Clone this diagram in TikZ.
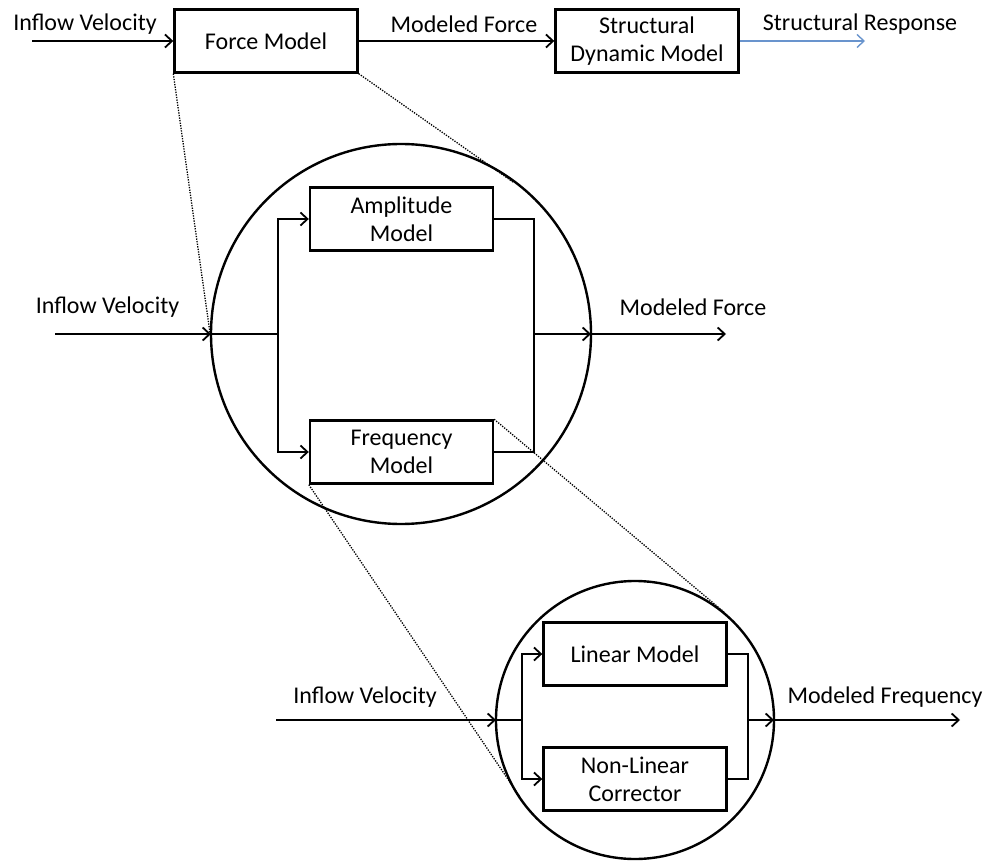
\documentclass[tikz,border=0pt]{standalone}
\usepackage{fontspec}
\setmainfont{Carlito}
\usetikzlibrary{arrows.meta}
\definecolor{respblue}{RGB}{105,148,205}
\begin{document}
\begin{tikzpicture}[x=1pt,y=-1pt,
  every node/.style={font=\fontsize{24}{28}\selectfont},
  blk/.style={draw, line width=2.4pt, minimum width=183pt, minimum height=63pt, inner sep=0pt, align=center},
  zoomcirc/.style={draw, circle, line width=2.4pt, inner sep=0pt, outer sep=0pt},
  conn/.style={line width=1.8pt},
  arr/.style={conn, -{Straight Barb[length=7pt,width=13pt,line width=1.8pt]}},
  zoomline/.style={line width=1.3pt, dash pattern=on 1.3pt off 1.3pt},
  lbl/.style={anchor=base, inner sep=0pt}
]
\useasboundingbox (0,0) rectangle (999,861);

% ---------- top row ----------
\node[blk] (fm) at (266,41) {Force Model};
\node[blk] (sdm) at (647,41) {Structural\\Dynamic Model};
\coordinate (in1) at (32,41);
\coordinate (out1) at (865,41);
\draw[arr] (in1) -- (fm);
\draw[arr] (fm) -- (sdm);
\draw[arr, draw=respblue, line width=1.4pt, -{Straight Barb[length=7pt,width=13pt,line width=1.4pt]}] (sdm) -- (out1);
\node[lbl] (t1) at (85,31) {Inflow Velocity};
\node[lbl] (t2) at (464,33) {Modeled Force};
\node[lbl] (t3) at (860,31) {Structural Response};

% ---------- middle circle ----------
\node[zoomcirc, minimum size=380pt] (c1) at (401,334) {};
\node[blk] (am) at (401.5,219) {Amplitude\\Model};
\node[blk] (fq) at (401.5,452) {Frequency\\Model};
\coordinate (in2) at (55,334);
\coordinate (j1) at (278,334);
\coordinate (j2) at (534,334);
\coordinate (out2) at (726,334);
\draw[arr] (in2) -- (c1.west);
\draw[conn] (c1.west) -- (j1);
\draw[arr] (j1) |- (am.west);
\draw[arr] (j1) |- (fq.west);
\draw[conn] (am.east) -| (j2);
\draw[conn] (fq.east) -| (j2);
\draw[arr] (j2) -- (c1.east);
\draw[arr] (c1.east) -- (out2);
\node[lbl] (t4) at (107.5,313) {Inflow Velocity};
\node[lbl] (t5) at (693,316) {Modeled Force};

% ---------- bottom circle ----------
\node[zoomcirc, minimum size=278pt] (c2) at (635,720) {};
\node[blk] (lm) at (635,654) {Linear Model};
\node[blk] (nl) at (635,779) {Non-Linear\\Corrector};
\coordinate (in3) at (276,720);
\coordinate (j3) at (522,720);
\coordinate (j4) at (748,720);
\coordinate (out3) at (960,720);
\draw[arr] (in3) -- (c2.west);
\draw[conn] (c2.west) -- (j3);
\draw[arr] (j3) |- (lm.west);
\draw[arr] (j3) |- (nl.west);
\draw[conn] (lm.east) -| (j4);
\draw[conn] (nl.east) -| (j4);
\draw[arr] (j4) -- (c2.east);
\draw[arr] (c2.east) -- (out3);
\node[lbl] (t6) at (365,703) {Inflow Velocity};
\node[lbl] (t7) at (885,703) {Modeled Frequency};

% ---------- zoom (dotted) lines ----------
\coordinate (z1) at (210,333);
\coordinate (z2) at (513,182);
\coordinate (z3) at (724,612);
\coordinate (z4) at (520,797);
\draw[zoomline] (fm.south west) -- (z1);
\draw[zoomline] (fm.south east) -- (z2);
\draw[zoomline] (fq.north east) -- (z3);
\draw[zoomline] (fq.south west) -- (z4);
\end{tikzpicture}
\end{document}
